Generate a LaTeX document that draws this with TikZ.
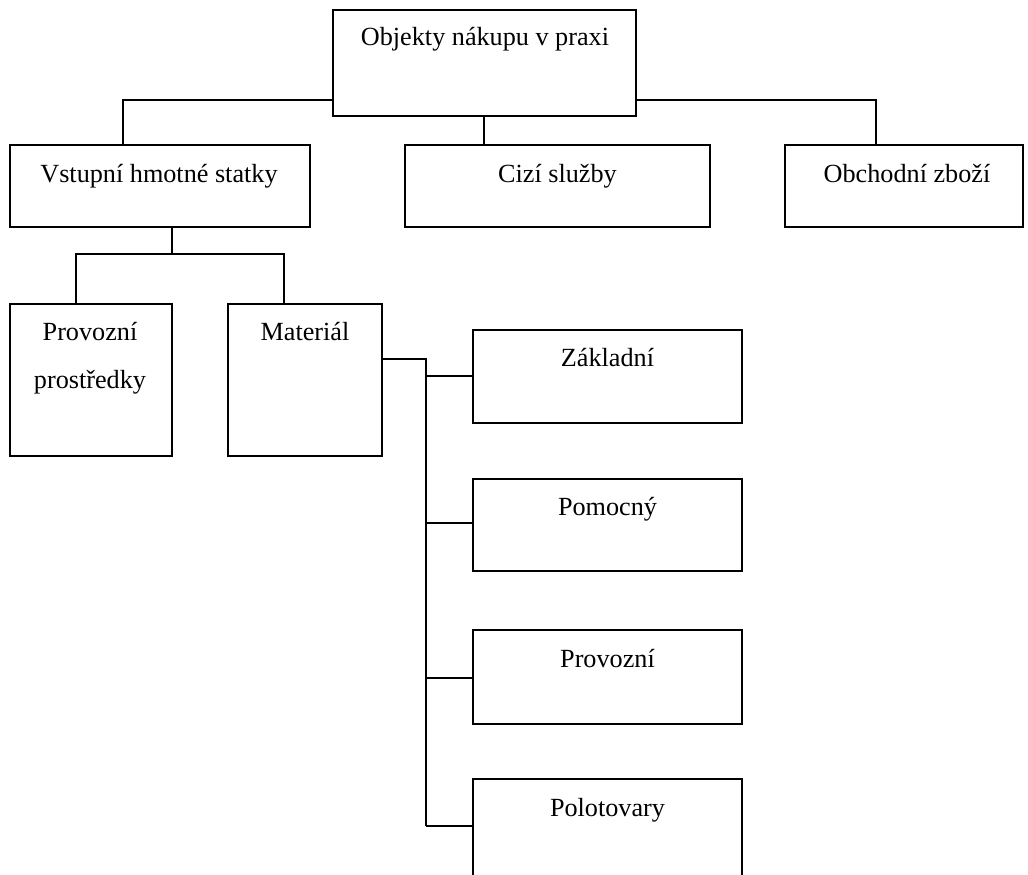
\documentclass[tikz,border=0pt]{standalone}
\usepackage{fontspec}
\setmainfont{Liberation Serif}
\begin{document}
\begin{tikzpicture}[x=1pt,y=-1pt,
  box/.style={draw, line width=1.9pt, inner sep=0pt, rectangle},
  lbl/.style={anchor=base, inner sep=0pt, font=\fontsize{26.2}{48}\selectfont},
  conn/.style={line width=1.9pt}]
\useasboundingbox (0,0) rectangle (1028,875);
\clip (0,0) rectangle (1028,875);
% boxes
\node[box, minimum width=303pt, minimum height=106pt] (top) at (484.5,63) {};
\node[box, minimum width=300pt, minimum height=82pt] (vhs) at (160,186) {};
\node[box, minimum width=305pt, minimum height=82pt] (cizi) at (557.5,186) {};
\node[box, minimum width=238pt, minimum height=82pt] (obch) at (904,186) {};
\node[box, minimum width=162pt, minimum height=152pt] (prov) at (91,380) {};
\node[box, minimum width=154pt, minimum height=152pt] (mat) at (305,380) {};
\node[box, minimum width=269pt, minimum height=93pt] (zakl) at (607.5,376.5) {};
\node[box, minimum width=269pt, minimum height=92pt] (pomoc) at (607.5,525) {};
\node[box, minimum width=269pt, minimum height=94pt] (provo) at (607.5,677) {};
\node[box, minimum width=269pt, minimum height=120pt] (polot) at (607.5,839) {};
% texts
\node[lbl] (ttop) at (485,46) {Objekty nákupu v praxi};
\node[lbl] (tvhs) at (159,182) {Vstupní hmotné statky};
\node[lbl] (tcizi) at (557.5,182) {Cizí služby};
\node[lbl] (tobch) at (907,182) {Obchodní zboží};
\node[lbl] (tprov1) at (90,340) {Provozní};
\node[lbl] (tprov2) at (90,388) {prostředky};
\node[lbl] (tmat) at (305,340) {Materiál};
\node[lbl] (tzakl) at (607.5,366) {Základní};
\node[lbl] (tpomoc) at (607.5,515) {Pomocný};
\node[lbl] (tprovo) at (607.5,667) {Provozní};
\node[lbl] (tpolot) at (607.5,816) {Polotovary};
% helper coordinates
\coordinate (y100) at (0,100);
\coordinate (x123) at (123,0);
\coordinate (x484) at (484,0);
\coordinate (x876) at (876,0);
\coordinate (x172) at (172,0);
\coordinate (y254) at (0,254);
\coordinate (x76) at (76,0);
\coordinate (x284) at (284,0);
\coordinate (y359) at (0,359);
\coordinate (x426) at (426,0);
\coordinate (y376) at (0,376);
\coordinate (y523) at (0,523);
\coordinate (y678) at (0,678);
\coordinate (y826) at (0,826);
% connectors
\draw[conn] (top.west |- y100) -| (x123 |- vhs.north);
\draw[conn] (x484 |- top.south) -- (x484 |- cizi.north);
\draw[conn] (top.east |- y100) -| (x876 |- obch.north);
\draw[conn] (x172 |- vhs.south) -- (x172 |- y254);
\draw[conn] (x76 |- prov.north) |- (x284 |- y254) -- (x284 |- mat.north);
\draw[conn] (mat.east |- y359) -| (x426 |- y826);
\draw[conn] (x426 |- y376) -- (zakl.west |- y376);
\draw[conn] (x426 |- y523) -- (pomoc.west |- y523);
\draw[conn] (x426 |- y678) -- (provo.west |- y678);
\draw[conn] (x426 |- y826) -- (polot.west |- y826);
\end{tikzpicture}
\end{document}
